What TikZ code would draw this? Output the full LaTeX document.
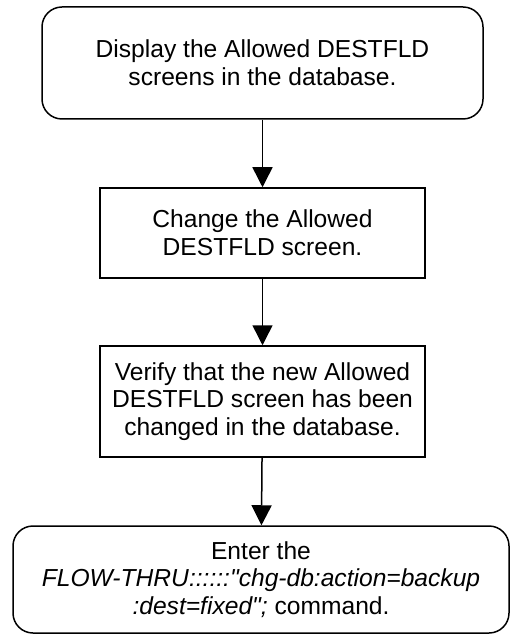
\documentclass[tikz,border=0pt]{standalone}
\usepackage{fontspec}
\setmainfont{Liberation Sans}[Ligatures=TeXOff]
\usetikzlibrary{positioning, arrows.meta}

\begin{document}
\begin{tikzpicture}[x=0.5pt, y=-0.5pt,
    box/.style={draw, line width=0.75pt, align=center, inner sep=0pt,
        font=\fontsize{12.3}{13.8}\selectfont},
    roundbox/.style={box, rounded corners=10pt},
    flow/.style={-{Triangle[length=10pt, width=10pt]}, line width=0.75pt}]
\useasboundingbox (0,0) rectangle (510,635);

% Steps of the procedure
\node[roundbox, minimum width=220.5pt, minimum height=56pt] (show) at (262.5, 63)
    {Display the Allowed DESTFLD\\screens in the database.};
\node[box, minimum width=162.5pt, minimum height=45pt] (change) at (262.5, 233)
    {Change the Allowed\\DESTFLD screen.};
\node[box, minimum width=162.5pt, minimum height=55.5pt] (verify) at (262.5, 401.5)
    {Verify that the new Allowed\\DESTFLD screen has been\\changed in the database.};
\node[roundbox, minimum width=248pt, minimum height=53.5pt] (backup) at (261, 579.5)
    {Enter the\\\textit{FLOW-THRU::::::"chg-db:action=backup}\\\textit{:dest=fixed";} command.};

\draw[flow] (show) -- (change);
\draw[flow] (change) -- (verify);
\draw[flow] (verify) -- (backup);
\end{tikzpicture}
\end{document}
